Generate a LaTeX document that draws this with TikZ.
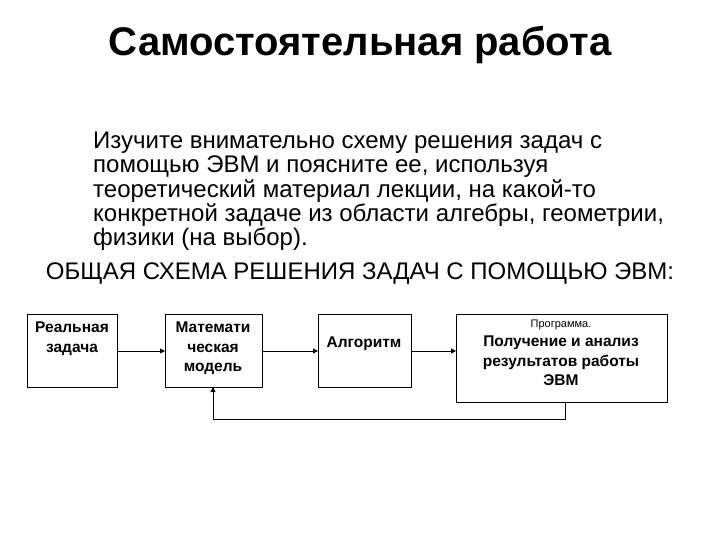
\documentclass[tikz,border=0pt]{standalone}
\usepackage{fontspec}
\setmainfont{Liberation Sans}
\usetikzlibrary{arrows.meta}
\begin{document}
\begin{tikzpicture}[x=1pt,y=-1pt,
  box/.style={draw,line width=0.8pt,fill=white},
  btxt/.style={font=\bfseries\fontsize{15.5}{19.5}\selectfont,align=center,anchor=north,inner sep=0},
  arr/.style={line width=0.8pt,-{Triangle[length=5pt,width=5pt]}},
  para/.style={anchor=west,font=\fontsize{24}{24}\selectfont,inner sep=0}]
\useasboundingbox[fill=white] (0,0) rectangle (720,540);
\node[font=\bfseries\fontsize{40}{44}\selectfont] (title) at (360,45) {Самостоятельная работа};
\node[para] (p1) at (93,143) {Изучите внимательно схему решения задач с};
\node[para] (p2) at (93,167) {помощью ЭВМ и поясните ее, используя};
\node[para] (p3) at (93,191) {теоретический материал лекции, на какой-то};
\node[para] (p4) at (93,215) {конкретной задаче из области алгебры, геометрии,};
\node[para] (p5) at (93,239) {физики (на выбор).};
\node[font=\fontsize{24}{24}\selectfont] (head) at (360,274) {ОБЩАЯ СХЕМА РЕШЕНИЯ ЗАДАЧ С ПОМОЩЬЮ ЭВМ:};
\draw[box] (27,314) rectangle (117,387); \coordinate (b1e) at (117,351);
\draw[box] (165,314) rectangle (262,387); \coordinate (b2w) at (165,351); \coordinate (b2e) at (262,351); \coordinate (b2s) at (213,387);
\draw[box] (318,314) rectangle (411,387); \coordinate (b3w) at (318,351); \coordinate (b3e) at (411,351);
\draw[box] (456,314) rectangle (667,402); \coordinate (b4w) at (456,351); \coordinate (b4s) at (565,402);
\node[btxt] (t1) at (72,322) {Реальная\\задача};
\node[btxt] (t2) at (213,322) {Математи\\ческая\\модель};
\node[btxt] (t3) at (364,337) {Алгоритм};
\node[font=\fontsize{11}{12}\selectfont] (t4a) at (561,325) {Программа.};
\node[btxt] (t4) at (561,336) {Получение и анализ\\результатов работы\\ЭВМ};
\draw[arr] (b1e) -- (b2w);
\draw[arr] (b2e) -- (b3w);
\draw[arr] (b3e) -- (b4w);
\draw[arr] (b4s) -- (565,419) -- (213,419) -- (b2s);
\end{tikzpicture}
\end{document}
